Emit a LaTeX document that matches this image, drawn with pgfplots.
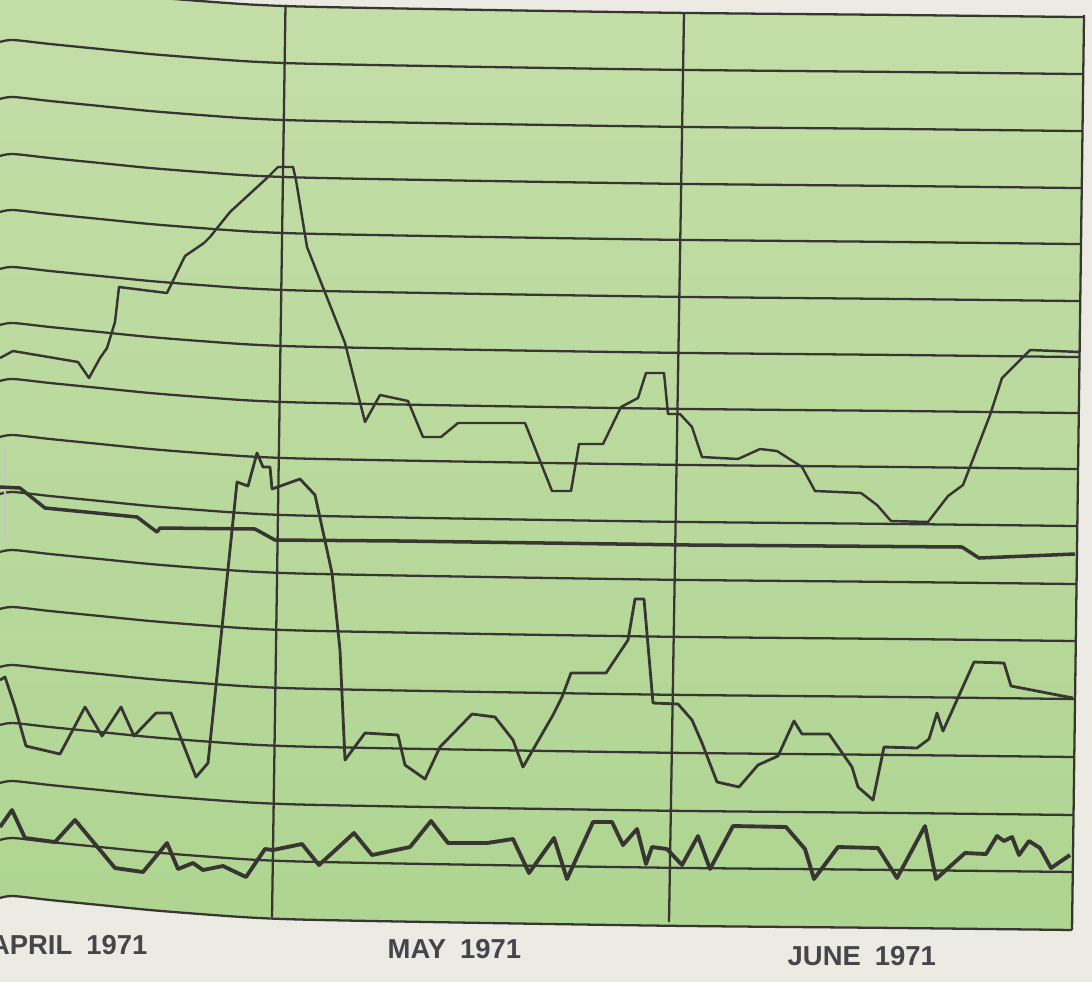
\documentclass[border=0pt]{standalone}
\usepackage{pgfplots}
\pgfplotsset{compat=1.18}
\usepackage{pgfplotstable}
\usepackage{fontspec}
\setmainfont{Liberation Sans}
\definecolor{paper}{HTML}{ECEBE3}
\definecolor{gtop}{HTML}{C4DEA8}
\definecolor{gbot}{HTML}{AFD592}
\definecolor{ink}{HTML}{383532}
\definecolor{lab}{HTML}{45454C}

% bending of the ruled lines in the photograph (offset in px against x)
\pgfplotstableread{
x o
0 0
13 -2
50 2
100 7
150 12
200 16
250 19.5
300 21.5
400 23.5
550 26
690 28
900 30
1100 32.3
}\curve

\begin{document}
\begin{tikzpicture}
\begin{axis}[scale only axis, width=10.92cm, height=9.81cm,
  xmin=0, xmax=1092, ymin=0, ymax=981, y dir=reverse,
  axis lines=none, ticks=none, clip=true, no markers]
% paper
\addplot[fill=paper, draw=none] coordinates {(-10,-10)(1110,-10)(1110,1000)(-10,1000)} -- cycle;
% green chart area
\addplot[draw=none, top color=gtop, bottom color=gbot] coordinates {
 (-5,-15)(13,-17)(50,-13)(100,-8)(150,-3)(200,1)(250,4.5)(300,6.5)(400,8.5)(550,11)(690,13)(900,15)(1084,17)
 (1072,930)(900,928)(690,926)(550,924)(400,921.5)(300,919.5)(250,917.5)(200,914)(150,910)(100,905)(50,900)(13,896)(-5,898)} -- cycle;
% ruled lines
\pgfplotsinvokeforeach{-15,42,99,156,212,269,325,381,437,494,552,609,667,725,783,840,898}{
  \addplot[ink, line width=0.65pt, smooth, tension=0.5] table[x=x, y expr=\thisrow{o}+(#1)] {\curve};
}
% paper right of the chart
\addplot[fill=paper, draw=none] coordinates {(1084.6,-30)(1110,-30)(1110,1000)(1071,1000)} -- cycle;
\addplot[ink, line width=0.65pt] coordinates {(1084,15)(1072,930)};
% month lines
\addplot[ink, line width=0.65pt] coordinates {(285.5,5)(272,917)};
\addplot[ink, line width=0.65pt] coordinates {(684,13)(669,922)};
% wire clip at the left edge
\addplot[gray!45, line width=0.8pt] coordinates {(5,446)(5,541)};
% trace A
\addplot[ink, line width=0.7pt, line join=round] coordinates {
(0,358)(13,351)(78,362)(89,378)(100,358)(107,348)(115,322)(119,287)(167,293)(185,256)(204,243)(210,237)(230,212)(267,178)(278,167)(293,167)(296,180)(307,247)(345,343)(365,422)(380,395)(408,401)(423,437)(441,437)(458,423)(525,423)(552,491)(571,491)(579,444)(603,444)(621,407)(638,398)(646,373)(664,373)(668,414)(680,414)(692,427)(702,457)(738,459)(760,449)(777,451)(802,467)(815,491)(861,493)(877,505)(891,521)(928,522)(948,496)(963,485)(990,415)(1002,378)(1030,350)(1080,352)};
% trace B
\addplot[ink, line width=1.0pt, line join=round] coordinates {
(0,487)(20,488)(45,508)(137,517)(157,532)(160,528)(255,529)(275,540)(400,541)(690,545)(962,547)(979,558)(1075,554)};
% trace C
\addplot[ink, line width=0.8pt, line join=round] coordinates {
(0,680)(5,677)(15,707)(26,746)(60,754)(85,707)(102,736)(121,707)(134,736)(156,713)(171,713)(196,777)(208,763)(237,482)(248,486)(257,453)(263,467)(270,467)(272,489)(300,479)(315,495)(332,573)(340,650)(345,760)(365,733)(398,735)(405,765)(425,779)(440,747)(472,714)(495,717)(513,740)(523,767)(553,715)(562,697)(571,673)(606,673)(628,640)(635,599)(644,599)(653,703)(678,704)(692,720)(702,743)(717,782)(739,787)(758,765)(778,756)(794,721)(802,734)(829,734)(852,767)(858,787)(873,800)(884,747)(917,748)(929,739)(937,713)(943,731)(974,662)(1004,663)(1011,686)(1073,698)};
% trace D
\addplot[ink, line width=1.1pt, line join=round] coordinates {
(0,827)(12,810)(25,838)(55,842)(75,820)(115,868)(143,872)(167,843)(178,869)(193,863)(203,870)(223,866)(246,877)(265,849)(273,850)(302,844)(319,865)(354,833)(372,855)(410,847)(431,821)(448,843)(487,843)(513,839)(529,873)(554,838)(567,879)(593,822)(612,822)(623,845)(637,829)(646,864)(652,847)(667,849)(682,865)(698,836)(710,869)(733,826)(786,827)(805,849)(814,879)(838,847)(878,848)(897,878)(925,826)(936,879)(965,853)(986,854)(997,836)(1004,841)(1012,837)(1019,855)(1029,841)(1040,848)(1051,868)(1070,855)};
% month names
\node[anchor=base east, font=\bfseries\fontsize{7.8}{9}\selectfont, text=lab, inner sep=0pt] at (axis cs:148,954) {APRIL\hspace{4pt}1971};
\node[anchor=base west, font=\bfseries\fontsize{7.8}{9}\selectfont, text=lab, inner sep=0pt] at (axis cs:387,958) {MAY\hspace{4pt}1971};
\node[anchor=base west, font=\bfseries\fontsize{7.8}{9}\selectfont, text=lab, inner sep=0pt] at (axis cs:787,965) {JUNE\hspace{4pt}1971};
\end{axis}
\pgfresetboundingbox
\path[use as bounding box] (current axis.south west) rectangle (current axis.north east);
\end{tikzpicture}
\end{document}
